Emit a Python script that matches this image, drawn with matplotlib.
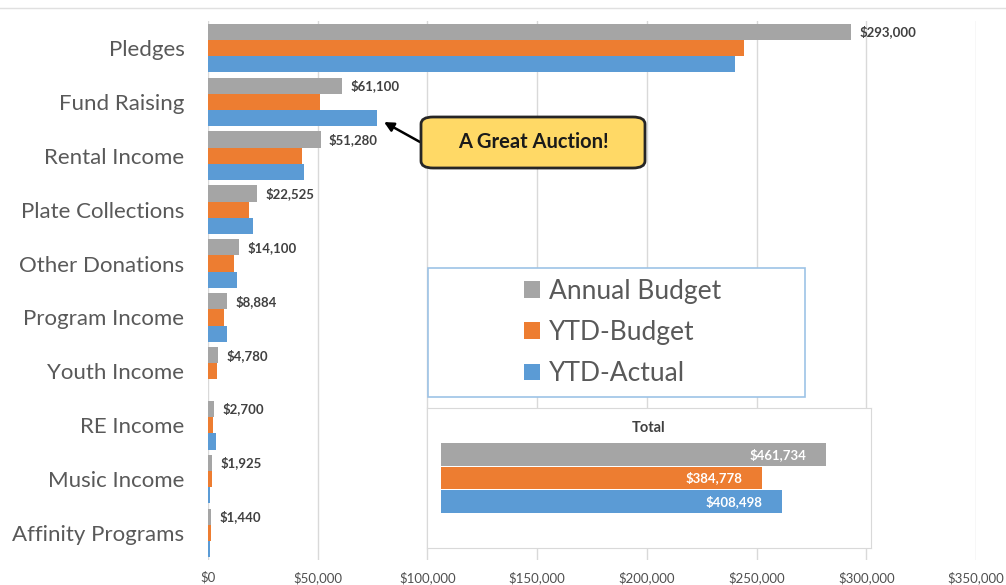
import matplotlib.pyplot as plt
import numpy as np
from matplotlib.patches import FancyBboxPatch, Rectangle
from matplotlib.ticker import FuncFormatter

# ====== data ======
categories = ["Pledges", "Fund Raising", "Rental Income", "Plate Collections",
              "Other Donations", "Program Income", "Youth Income", "RE Income",
              "Music Income", "Affinity Programs"]
annual_budget = [293000, 61100, 51280, 22525, 14100, 8884, 4780, 2700, 1925, 1440]
ytd_budget = [244167, 50917, 42733, 18771, 11750, 7403, 3983, 2250, 1604, 1200]
ytd_actual = [240000, 76900, 43750, 20650, 13200, 8800, 0, 3500, 900, 800]
series_names = ["Annual Budget", "YTD-Budget", "YTD-Actual"]
totals = [461734, 384778, 408498]
x_ticks = [0, 50000, 100000, 150000, 200000, 250000, 300000, 350000]

GRAY = "#A5A5A5"
ORANGE = "#ED7D31"
BLUE = "#5B9BD5"
TXT = "#595959"
colors = [GRAY, ORANGE, BLUE]

plt.rcParams['font.family'] = ['Lato', 'DejaVu Sans']

W, H = 1006, 585
fig = plt.figure(figsize=(W / 100, H / 100), dpi=100)


def fbox(x0, y0, x1, y1):
    # pixel box (top-left origin) -> figure fraction rect
    return [x0 / W, 1 - y1 / H, (x1 - x0) / W, (y1 - y0) / H]


# thin line at very top
fig.add_artist(plt.Line2D([0, 1], [1 - 8 / H, 1 - 8 / H], color="#e0e0e0", lw=1))

# ====== main chart ======
ax = fig.add_axes(fbox(208, 21, 976, 560))
y = np.arange(len(categories))
h = 0.3
for i, (vals, c) in enumerate(zip([annual_budget, ytd_budget, ytd_actual], colors)):
    ax.barh(y - h + i * h, vals, height=h, color=c, label=series_names[i], zorder=2)

for yi, v in zip(y, annual_budget):
    ax.annotate(f"${v:,}", (v, yi - h), xytext=(6, 0), textcoords="offset points",
                va="center", ha="left", fontsize=9.5, fontweight="bold", color="#404040")

ax.set_xlim(0, 350000)
ax.set_ylim(len(categories) - 0.5, -0.5)
ax.set_xticks(x_ticks)
ax.xaxis.set_major_formatter(FuncFormatter(lambda v, p: f"${int(v):,}"))
ax.set_yticks(y)
ax.set_yticklabels(categories, fontsize=16, color=TXT)
ax.tick_params(axis="x", length=0, labelsize=9.5, labelcolor="#505050", pad=8)
ax.tick_params(axis="y", length=0, pad=17)
ax.grid(axis="x", color="#d9d9d9", lw=1, zorder=0)
ax.set_axisbelow(True)
for s in ax.spines.values():
    s.set_visible(False)

# ====== callout ======
bx0, by0, bx1, by1 = 421, 117, 645, 168
fig.patches.append(FancyBboxPatch((bx0 / W, 1 - by1 / H), (bx1 - bx0) / W, (by1 - by0) / H,
                                  boxstyle="round,pad=0,rounding_size=0.012",
                                  transform=fig.transFigure, facecolor="#FFD966",
                                  edgecolor="#262626", lw=2, zorder=5))
fig.text((bx0 + bx1) / 2 / W, 1 - (by0 + by1) / 2 / H, "A Great Auction!",
         ha="center", va="center", fontsize=14.5, fontweight="bold", color="#1a1a1a", zorder=6)
ax.annotate("", xy=(ytd_actual[1], 1 + h), xytext=(420, H - 142),
            xycoords=("data", "data"), textcoords="figure pixels",
            arrowprops=dict(arrowstyle="-|>", color="black", lw=1.8, mutation_scale=14,
                            shrinkA=0, shrinkB=6), annotation_clip=False)

# ====== legend ======
lx0, ly0, lx1, ly1 = 428, 268, 805, 397
fig.patches.append(Rectangle((lx0 / W, 1 - ly1 / H), (lx1 - lx0) / W, (ly1 - ly0) / H,
                             transform=fig.transFigure, facecolor="white",
                             edgecolor="#9DC3E6", lw=1.2, zorder=3))
leg = fig.legend(loc="center", bbox_to_anchor=((lx0 + lx1) / 2 / W + 0.006, 1 - (ly0 + ly1) / 2 / H),
                 frameon=False, fontsize=19, labelspacing=0.62, handlelength=0.6,
                 handleheight=0.6, handletextpad=0.35)
for t in leg.get_texts():
    t.set_color(TXT)
leg.set_zorder(4)

# ====== total inset ======
ib = fig.add_axes(fbox(427, 408, 871, 548))
ib.set_xticks([])
ib.set_yticks([])
ib.set_facecolor("white")
for s in ib.spines.values():
    s.set_color("#d9d9d9")
ib.set_zorder(4)
ib.text(0.5, 0.855, "Total", transform=ib.transAxes, ha="center", va="center",
        fontsize=10.5, fontweight="bold", color="#404040")

ia = fig.add_axes(fbox(441, 443, 858, 513))
ia.set_zorder(5)
ia.patch.set_alpha(0)
ia.barh(range(3), totals, height=0.97, color=colors)
for i, v in enumerate(totals):
    ia.annotate(f"${v:,}", (v, i), xytext=(-14, 0), textcoords="offset points",
                ha="right", va="center", fontsize=9.5, color="white", fontweight="bold")
ia.set_xlim(0, 500000)
ia.set_ylim(2.5, -0.5)
ia.axis("off")

fig.savefig("out.png", dpi=100)
